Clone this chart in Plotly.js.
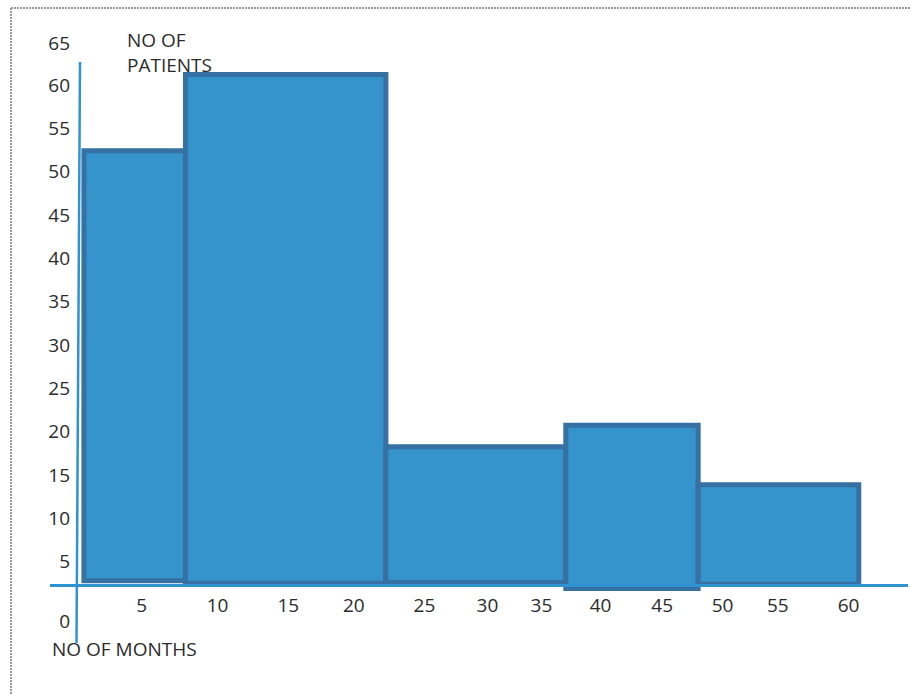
<!DOCTYPE html>
<html>
<head>
<meta charset="utf-8">
<script src="https://cdn.plot.ly/plotly-3.0.1.min.js"></script>
<style>html,body{margin:0;padding:0;background:#fff;}#chart{width:910px;height:695px;}</style>
</head>
<body>
<div id="chart"></div>
<script>
// ---- data ----
// bin edges (months, as drawn against the hand-placed month labels)
const binEdges = [0.5, 8.4, 24.0, 38.0, 48.3, 60.8];
// number of patients (top of each bar)
const patients = [52.4, 61.2, 18.25, 20.75, 13.87];
// bottom of each bar as drawn (slightly uneven baseline)
const barBottoms = [2.8, 2.5, 2.6, 1.9, 2.4];
// x tick labels and where they sit on the month scale
const monthLabels = ['5','10','15','20','25','30','35','40','45','50','55','60'];
const monthLabelPos = [5.0, 10.9, 16.4, 21.5, 27.0, 31.9, 36.1, 40.7, 45.5, 50.2, 54.5, 60.0];
// y tick labels and where they sit on the patient scale
const patientLabels = ['0','5','10','15','20','25','30','35','40','45','50','55','60','65'];
const patientLabelPos = [-1.9, 5, 10, 15, 20, 25, 30, 35, 40, 45, 50, 55, 60, 64.8];
const yTitle = 'NO OF<br>PATIENTS';
const xTitle = 'NO OF MONTHS';

// ---- build the bars from the data ----
const centers = [], widths = [], lengths = [];
for (let i = 0; i < patients.length; i++) {
  centers.push((binEdges[i] + binEdges[i + 1]) / 2);
  widths.push(binEdges[i + 1] - binEdges[i]);
  lengths.push(patients[i] - barBottoms[i]);
}

const W = 910, H = 695;
const font = {family: '"Open Sans", sans-serif', size: 19, color: '#2b2b2b'};
const axisBlue = '#2F93D1';

const trace = {
  type: 'bar',
  x: centers,
  y: lengths,
  base: barBottoms,
  width: widths,
  marker: {color: '#3594CB', line: {color: '#3770A3', width: 5}},
  hoverinfo: 'skip'
};

const layout = {
  width: W, height: H,
  margin: {l: 0, r: 0, t: 0, b: 0, pad: 0},
  paper_bgcolor: '#ffffff',
  plot_bgcolor: 'rgba(0,0,0,0)',
  showlegend: false,
  font: font,
  xaxis: {
    domain: [50 / W, 908 / W],
    range: [-2.14, 64.63],
    anchor: 'free',
    position: 1 - 585 / H,
    showline: true, linecolor: axisBlue, linewidth: 2.5,
    showgrid: false, zeroline: false,
    ticks: '',
    tickmode: 'array', tickvals: monthLabelPos, ticktext: monthLabels,
    tickfont: font,
    ticklabelstandoff: 3,
    automargin: false, fixedrange: true
  },
  yaxis: {
    domain: [0, 1],
    range: [-10.38, 69.8],
    anchor: 'free',
    position: 70 / W,
    showline: false,
    showgrid: false, zeroline: false,
    ticks: '',
    tickmode: 'array', tickvals: patientLabelPos, ticktext: patientLabels,
    tickfont: font,
    ticklabelstandoff: 0,
    automargin: false, fixedrange: true
  },
  shapes: [
    // dotted frame: top and left edges
    {type: 'line', xref: 'paper', yref: 'paper',
     x0: 11 / W, x1: 1, y0: 1 - 8 / H, y1: 1 - 8 / H,
     line: {color: '#9a9a9a', width: 2, dash: '2px,1px'}, layer: 'below'},
    {type: 'line', xref: 'paper', yref: 'paper',
     x0: 11 / W, x1: 11 / W, y0: 1 - 8 / H, y1: 0,
     line: {color: '#9a9a9a', width: 2, dash: '2px,1px'}, layer: 'below'},
    // slanted vertical axis line
    {type: 'line', xref: 'paper', yref: 'paper',
     x0: 80 / W, y0: 1 - 62 / H, x1: 76.5 / W, y1: 1 - 643 / H,
     line: {color: axisBlue, width: 2.5}}
  ],
  annotations: [
    {text: yTitle, xref: 'paper', yref: 'paper', x: 126 / W, y: 1 - 52.5 / H,
     xanchor: 'left', yanchor: 'middle', align: 'left', showarrow: false,
     borderpad: 0, font: font},
    {text: xTitle, xref: 'paper', yref: 'paper', x: 50 / W, y: 1 - 649 / H,
     xanchor: 'left', yanchor: 'middle', align: 'left', showarrow: false, font: font}
  ]
};

Plotly.newPlot('chart', [trace], layout, {displayModeBar: false, staticPlot: true});
</script>
</body>
</html>
